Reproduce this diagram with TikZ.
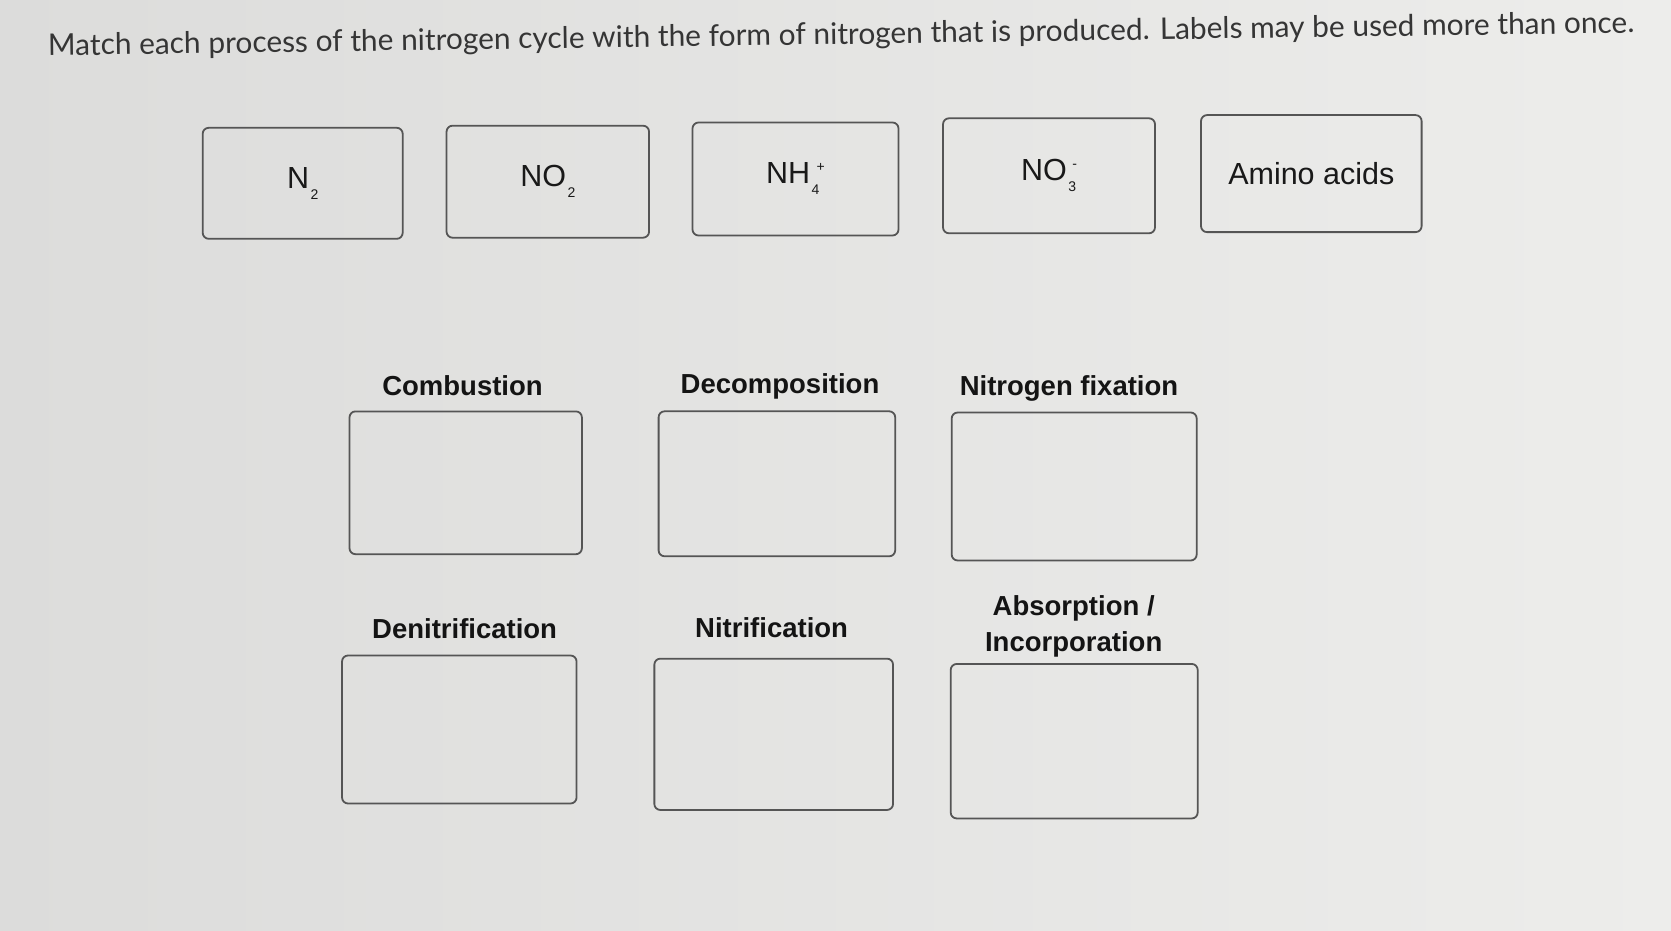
\documentclass[tikz,border=0pt]{standalone}
\usepackage{fontspec}
\setmainfont{Liberation Sans}
\newfontfamily\titlefont{Lato}
\usepackage{graphicx}
\newcommand\smallfs{\fontsize{14}{14}\selectfont}
\newcommand\subx[1]{\raisebox{-11pt}{\smallfs #1}}
\newcommand\supx[1]{\raisebox{12pt}{\smallfs #1}}
\definecolor{bgleft}{HTML}{DCDCDB}
\definecolor{bgright}{HTML}{EDEDEB}
\definecolor{edge}{HTML}{555555}
\definecolor{titlecol}{HTML}{353535}
\tikzset{
  formbox/.style={draw=edge, line width=1.8pt, rounded corners=6pt, inner sep=0pt,
    font=\fontsize{30.5}{36}\selectfont, text=black!90},
  procbox/.style={draw=edge, line width=1.8pt, rounded corners=6pt, inner sep=0pt},
  proclabel/.style={font=\bfseries\fontsize{27.5}{36}\selectfont, text=black!92, align=center, inner sep=0pt},
}
\begin{document}
\begin{tikzpicture}[x=1pt,y=-1pt]
\shade[left color=bgleft, right color=bgright] (0,0) rectangle (1671,931);
\useasboundingbox (0,0) rectangle (1671,931);

\node[rotate=0.83, text=titlecol, inner sep=0pt] (title) at (841,36)
  {\resizebox{1586pt}{!}{\titlefont Match each process of the nitrogen cycle with the form of nitrogen that is produced. Labels may be used more than once.}};

% forms of nitrogen
\node[formbox, minimum width=200pt, minimum height=111pt] (n2) at (302.7,183.3) {N\hspace{1.5pt}\subx{2}};
\node[formbox, minimum width=202.5pt, minimum height=112pt] (no2) at (547.8,181.7) {NO\hspace{1.5pt}\subx{2}};
\node[formbox, minimum width=206pt, minimum height=113pt] (nh4) at (795.5,179) {NH\hspace{1.5pt}\rlap{\subx{4}}\hspace{5pt}\supx{+}};
\node[formbox, minimum width=212pt, minimum height=115pt] (no3) at (1049,175.8) {NO\hspace{1.5pt}\rlap{\subx{3}}\hspace{4pt}\supx{-}};
\node[formbox, minimum width=220.6pt, minimum height=117pt] (amino) at (1311.3,173.6) {Amino acids};

% processes
\node[proclabel] (lcomb) at (462.5,385.8) {Combustion};
\node[procbox, minimum width=232.4pt, minimum height=142.8pt] (bcomb) at (465.7,482.8) {};
\node[proclabel] (ldec) at (780,386.8) {Decomposition};
\node[procbox, minimum width=236.6pt, minimum height=145pt] (bdec) at (776.9,483.8) {};
\node[proclabel] (lfix) at (1069,388.9) {Nitrogen fixation};
\node[procbox, minimum width=245pt, minimum height=148pt] (bfix) at (1074.2,486.5) {};

\node[proclabel] (lden) at (464.6,628.8) {Denitrification};
\node[procbox, minimum width=234.5pt, minimum height=148pt] (bden) at (459.3,729.5) {};
\node[proclabel] (lnit) at (771.6,627.7) {Nitrification};
\node[procbox, minimum width=238.7pt, minimum height=151.3pt] (bnit) at (773.7,734.3) {};
\node[proclabel] (labs) at (1073.7,626.5) {Absorption /\\Incorporation};
\node[procbox, minimum width=247pt, minimum height=154.5pt] (babs) at (1074.2,741.2) {};
\end{tikzpicture}
\end{document}
